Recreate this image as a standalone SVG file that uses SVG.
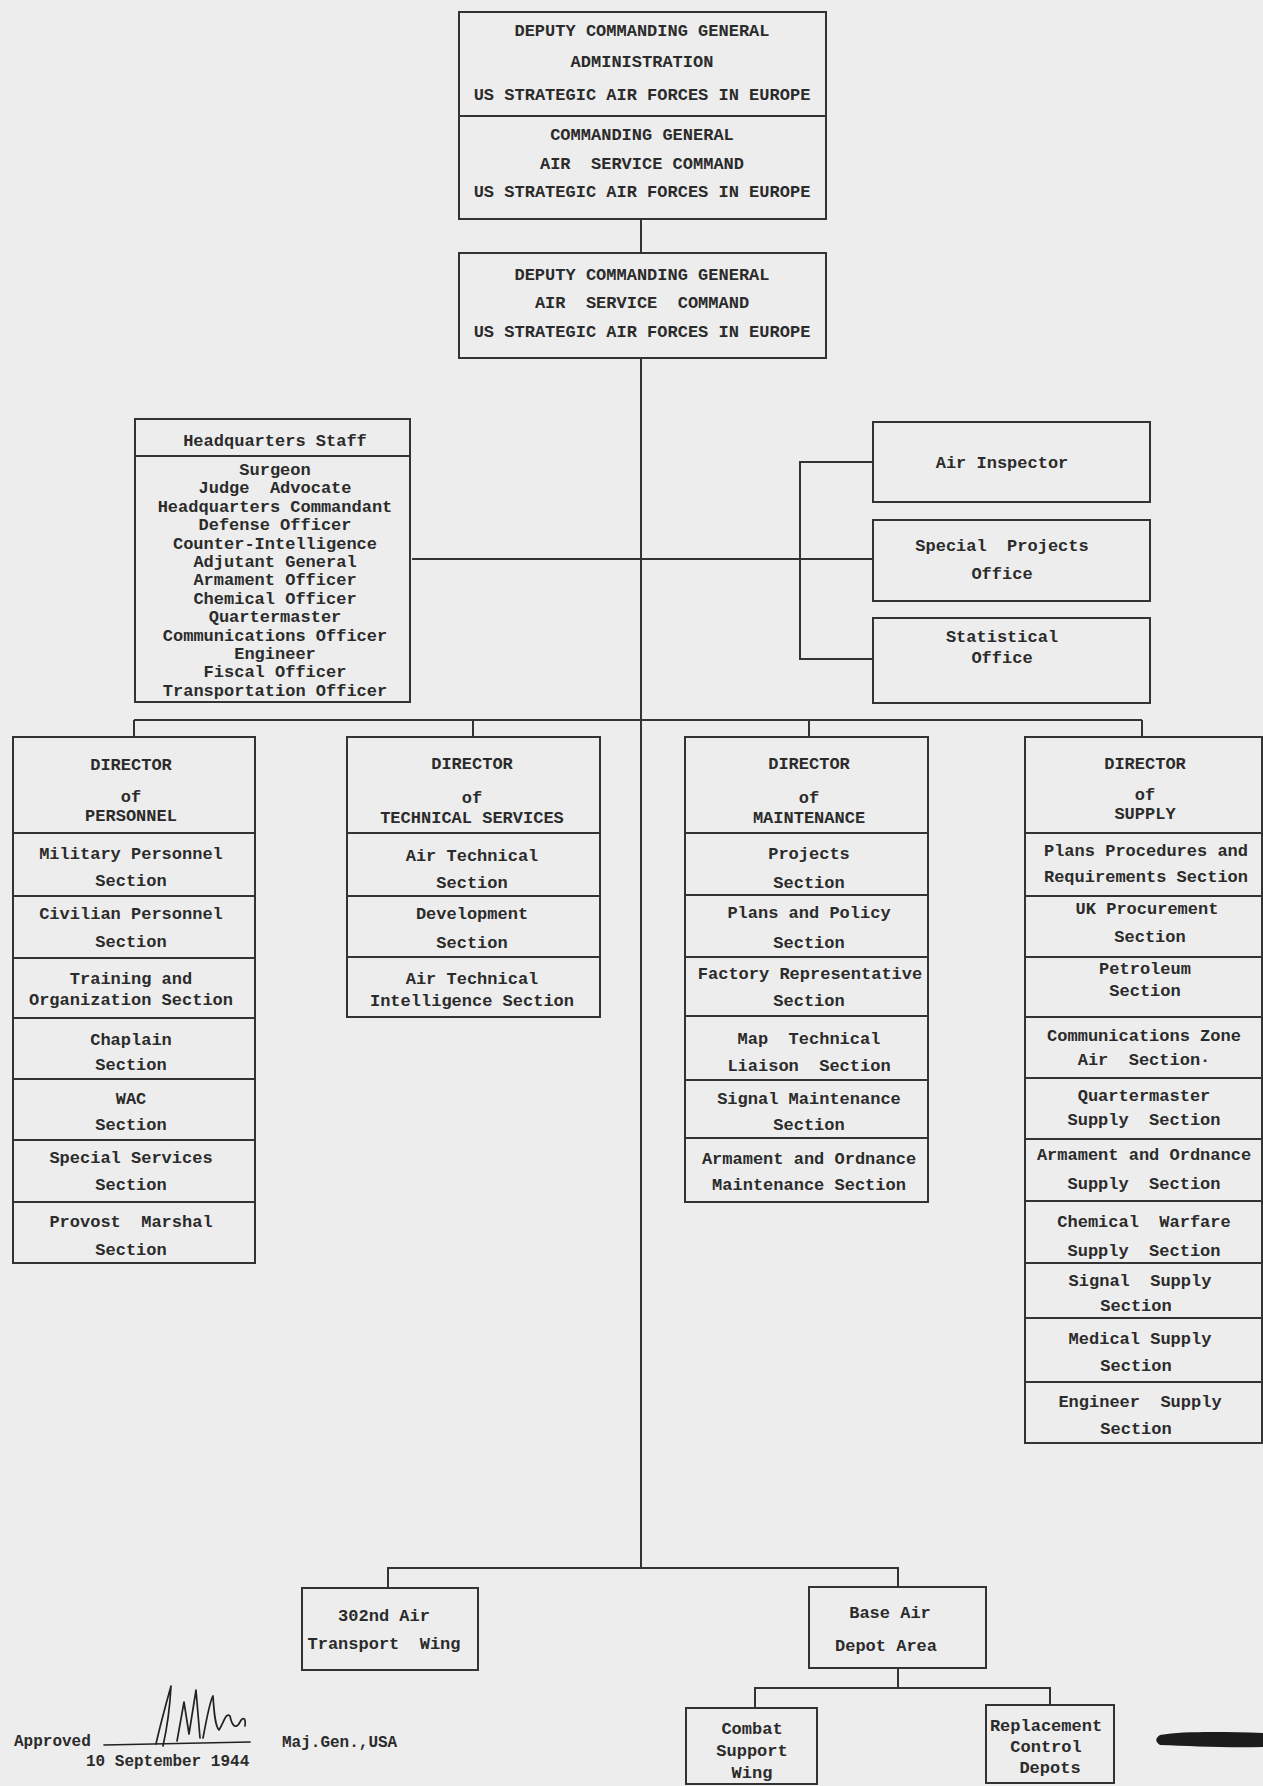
<svg xmlns="http://www.w3.org/2000/svg" width="1263" height="1786" viewBox="0 0 1263 1786" xml:space="preserve">
<style>
.bg{fill:#ededed}
.box{fill:none;stroke:#333;stroke-width:2}
.div{stroke:#333;stroke-width:2;fill:none}
.c{stroke:#333;stroke-width:2;fill:none}
.t{font-family:"Liberation Mono","DejaVu Sans Mono",monospace;font-size:17px;font-weight:bold;fill:#2b2b2b;text-anchor:middle;white-space:pre}
.s{font-family:"Liberation Mono","DejaVu Sans Mono",monospace;font-size:16px;font-weight:bold;fill:#2b2b2b;white-space:pre}
.sig{fill:none;stroke:#222;stroke-width:1.7;stroke-linecap:round;stroke-linejoin:round}
</style>
<rect class="bg" x="0" y="0" width="1263" height="1786"/>

<g id="connectors">
<path class="c" d="M641,219 V253"/>
<path class="c" d="M641,358 V1568"/>
<path class="c" d="M412,559 H873"/>
<path class="c" d="M873,462 H800 V659 H873"/>
<path class="c" d="M134,720 H1142"/>
<path class="c" d="M134,720 V737 M473,720 V737 M809,720 V737 M1142,720 V737"/>
<path class="c" d="M388,1588 V1568 H898 V1587"/>
<path class="c" d="M898,1668 V1688"/>
<path class="c" d="M755,1708 V1688 H1050 V1705"/>
</g>

<g id="node-top">
<rect class="box" x="459" y="12" width="367" height="207"/>
<line class="div" x1="459" y1="116" x2="826" y2="116"/>
<text class="t" x="642" y="36">DEPUTY COMMANDING GENERAL</text>
<text class="t" x="642" y="67">ADMINISTRATION</text>
<text class="t" x="642" y="100">US STRATEGIC AIR FORCES IN EUROPE</text>
<text class="t" x="642" y="140">COMMANDING GENERAL</text>
<text class="t" x="642" y="169">AIR  SERVICE COMMAND</text>
<text class="t" x="642" y="197">US STRATEGIC AIR FORCES IN EUROPE</text>
</g>

<g id="node-deputy">
<rect class="box" x="459" y="253" width="367" height="105"/>
<text class="t" x="642" y="280">DEPUTY COMMANDING GENERAL</text>
<text class="t" x="642" y="308">AIR  SERVICE  COMMAND</text>
<text class="t" x="642" y="337">US STRATEGIC AIR FORCES IN EUROPE</text>
</g>

<g id="node-hq-staff">
<rect class="box" x="135" y="419" width="275" height="283"/>
<line class="div" x1="135" y1="456" x2="410" y2="456"/>
<text class="t" x="275" y="446">Headquarters Staff</text>
<text class="t" x="275" y="475">Surgeon</text>
<text class="t" x="275" y="493.4">Judge  Advocate</text>
<text class="t" x="275" y="511.8">Headquarters Commandant</text>
<text class="t" x="275" y="530.2">Defense Officer</text>
<text class="t" x="275" y="548.6">Counter-Intelligence</text>
<text class="t" x="275" y="567">Adjutant General</text>
<text class="t" x="275" y="585.4">Armament Officer</text>
<text class="t" x="275" y="603.8">Chemical Officer</text>
<text class="t" x="275" y="622.2">Quartermaster</text>
<text class="t" x="275" y="640.6">Communications Officer</text>
<text class="t" x="275" y="659">Engineer</text>
<text class="t" x="275" y="677.4">Fiscal Officer</text>
<text class="t" x="275" y="695.8">Transportation Officer</text>
</g>

<g id="node-air-inspector">
<rect class="box" x="873" y="422" width="277" height="80"/>
<text class="t" x="1002" y="468">Air Inspector</text>
</g>
<g id="node-special-projects">
<rect class="box" x="873" y="520" width="277" height="81"/>
<text class="t" x="1002" y="551">Special  Projects</text>
<text class="t" x="1002" y="579">Office</text>
</g>
<g id="node-statistical">
<rect class="box" x="873" y="618" width="277" height="85"/>
<text class="t" x="1002" y="642">Statistical</text>
<text class="t" x="1002" y="663">Office</text>
</g>

<g id="node-personnel">
<rect class="box" x="13" y="737" width="242" height="526"/>
<path class="div" d="M13,833 H255 M13,896 H255 M13,958 H255 M13,1018 H255 M13,1079 H255 M13,1140 H255 M13,1202 H255"/>
<text class="t" x="131" y="770">DIRECTOR</text>
<text class="t" x="131" y="802">of</text>
<text class="t" x="131" y="821">PERSONNEL</text>
<text class="t" x="131" y="859">Military Personnel</text>
<text class="t" x="131" y="886">Section</text>
<text class="t" x="131" y="919">Civilian Personnel</text>
<text class="t" x="131" y="947">Section</text>
<text class="t" x="131" y="984">Training and</text>
<text class="t" x="131" y="1005">Organization Section</text>
<text class="t" x="131" y="1045">Chaplain</text>
<text class="t" x="131" y="1070">Section</text>
<text class="t" x="131" y="1104">WAC</text>
<text class="t" x="131" y="1130">Section</text>
<text class="t" x="131" y="1163">Special Services</text>
<text class="t" x="131" y="1190">Section</text>
<text class="t" x="131" y="1227">Provost  Marshal</text>
<text class="t" x="131" y="1255">Section</text>
</g>

<g id="node-technical">
<rect class="box" x="347" y="737" width="253" height="280"/>
<path class="div" d="M347,833 H600 M347,896 H600 M347,957 H600"/>
<text class="t" x="472" y="769">DIRECTOR</text>
<text class="t" x="472" y="803">of</text>
<text class="t" x="472" y="823">TECHNICAL SERVICES</text>
<text class="t" x="472" y="861">Air Technical</text>
<text class="t" x="472" y="888">Section</text>
<text class="t" x="472" y="919">Development</text>
<text class="t" x="472" y="948">Section</text>
<text class="t" x="472" y="984">Air Technical</text>
<text class="t" x="472" y="1006">Intelligence Section</text>
</g>

<g id="node-maintenance">
<rect class="box" x="685" y="737" width="243" height="465"/>
<path class="div" d="M685,833 H928 M685,895 H928 M685,957 H928 M685,1016 H928 M685,1080 H928 M685,1138 H928"/>
<text class="t" x="809" y="769">DIRECTOR</text>
<text class="t" x="809" y="803">of</text>
<text class="t" x="809" y="823">MAINTENANCE</text>
<text class="t" x="809" y="859">Projects</text>
<text class="t" x="809" y="888">Section</text>
<text class="t" x="809" y="918">Plans and Policy</text>
<text class="t" x="809" y="948">Section</text>
<text class="t" x="810" y="979">Factory Representative</text>
<text class="t" x="809" y="1006">Section</text>
<text class="t" x="809" y="1044">Map  Technical</text>
<text class="t" x="809" y="1071">Liaison  Section</text>
<text class="t" x="809" y="1104">Signal Maintenance</text>
<text class="t" x="809" y="1130">Section</text>
<text class="t" x="809" y="1164">Armament and Ordnance</text>
<text class="t" x="809" y="1190">Maintenance Section</text>
</g>

<g id="node-supply">
<rect class="box" x="1025" y="737" width="237" height="706"/>
<path class="div" d="M1025,833 H1262 M1025,896 H1262 M1025,957 H1262 M1025,1017 H1262 M1025,1078 H1262 M1025,1139 H1262 M1025,1201 H1262 M1025,1263 H1262 M1025,1318 H1262 M1025,1382 H1262"/>
<text class="t" x="1145" y="769">DIRECTOR</text>
<text class="t" x="1145" y="800">of</text>
<text class="t" x="1145" y="819">SUPPLY</text>
<text class="t" x="1146" y="856">Plans Procedures and</text>
<text class="t" x="1146" y="882">Requirements Section</text>
<text class="t" x="1147" y="914">UK Procurement</text>
<text class="t" x="1150" y="942">Section</text>
<text class="t" x="1145" y="974">Petroleum</text>
<text class="t" x="1145" y="996">Section</text>
<text class="t" x="1144" y="1041">Communications Zone</text>
<text class="t" x="1144" y="1065">Air  Section·</text>
<text class="t" x="1144" y="1101">Quartermaster</text>
<text class="t" x="1144" y="1125">Supply  Section</text>
<text class="t" x="1144" y="1160">Armament and Ordnance</text>
<text class="t" x="1144" y="1189">Supply  Section</text>
<text class="t" x="1144" y="1227">Chemical  Warfare</text>
<text class="t" x="1144" y="1256">Supply  Section</text>
<text class="t" x="1140" y="1286">Signal  Supply</text>
<text class="t" x="1136" y="1311">Section</text>
<text class="t" x="1140" y="1344">Medical Supply</text>
<text class="t" x="1136" y="1371">Section</text>
<text class="t" x="1140" y="1407">Engineer  Supply</text>
<text class="t" x="1136" y="1434">Section</text>
</g>

<g id="node-302nd">
<rect class="box" x="302" y="1588" width="176" height="82"/>
<text class="t" x="384" y="1621">302nd Air</text>
<text class="t" x="384" y="1649">Transport  Wing</text>
</g>

<g id="node-base-air">
<rect class="box" x="809" y="1587" width="177" height="81"/>
<text class="t" x="890" y="1618">Base Air</text>
<text class="t" x="886" y="1651">Depot Area</text>
</g>

<g id="node-combat-support">
<rect class="box" x="686" y="1708" width="131" height="76"/>
<text class="t" x="752" y="1734">Combat</text>
<text class="t" x="752" y="1756">Support</text>
<text class="t" x="752" y="1778">Wing</text>
</g>

<g id="node-replacement">
<rect class="box" x="986" y="1705" width="128" height="78"/>
<text class="t" x="1046" y="1731">Replacement</text>
<text class="t" x="1046" y="1752">Control</text>
<text class="t" x="1050" y="1773">Depots</text>
</g>

<g id="approval">
<text class="s" x="14" y="1746">Approved</text>
<path class="sig" d="M104,1745 L250,1742"/>
<path class="sig" d="M156,1744 C160,1726 166,1704 171,1686 C170,1706 167,1728 163,1746"/>
<path class="sig" d="M177,1741 L184,1702 L189,1734 L196,1690 L200,1738"/>
<path class="sig" d="M203,1738 C206,1722 210,1700 213,1696 C214,1712 215,1726 219,1730 C224,1722 226,1712 230,1716 C232,1726 236,1730 240,1722 C243,1716 246,1718 245,1726"/>
<text class="s" x="86" y="1766">10 September 1944</text>
<text class="s" x="282" y="1747">Maj.Gen.,USA</text>
<path d="M1160,1735 C1185,1731 1225,1732 1263,1733 L1263,1747 C1225,1748 1190,1746 1160,1745 C1155,1742 1155,1738 1160,1735 Z" fill="#1c1c1c"/>
</g>
</svg>
